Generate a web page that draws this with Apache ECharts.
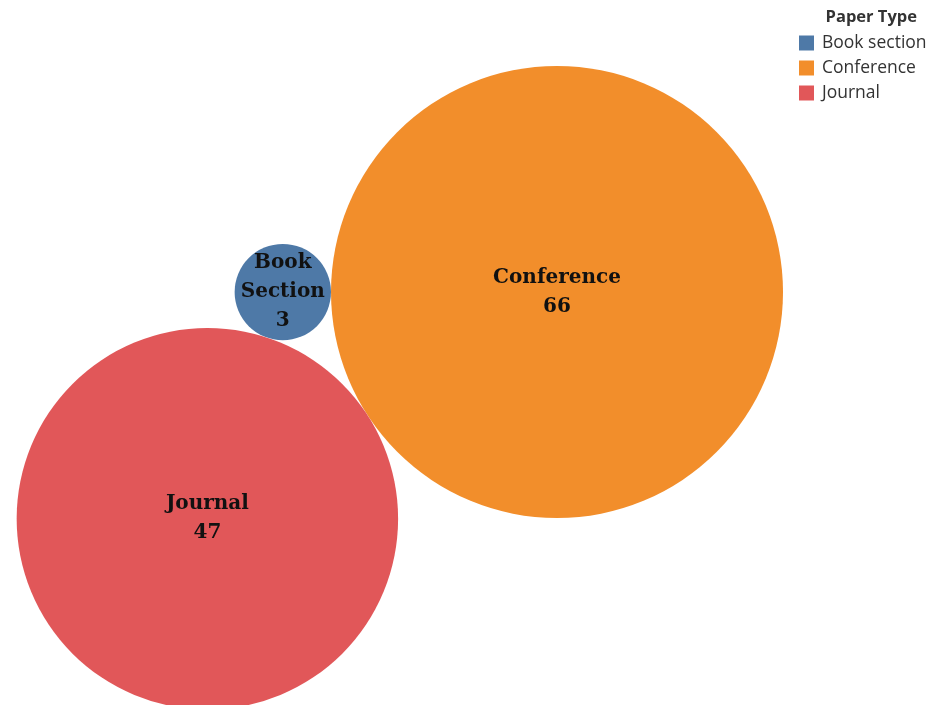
<!DOCTYPE html>
<html>
<head>
<meta charset="utf-8">
<script src="https://cdn.jsdelivr.net/npm/echarts@6/dist/echarts.min.js"></script>
<style>
  html, body { margin: 0; padding: 0; background: #ffffff; }
  #chart { width: 930px; height: 705px; }
</style>
</head>
<body>
<div id="chart"></div>
<script>
// Paper counts by type
const categories = ['Book section', 'Conference', 'Journal'];
const bubbleLabels = ['Book\nSection', 'Conference', 'Journal'];
const paperCounts = [3, 66, 47];
const colors = ['#4e79a7', '#f28e2b', '#e15759'];

// Packed-bubble layout: area proportional to count, circles placed tangent to each other.
const W = 930, H = 705;
const pxPerSqrt = 27.82;              // radius = pxPerSqrt * sqrt(count)
const anchor = [557, 292];            // centre of the largest bubble
const firstAngle = 147.03 * Math.PI / 180; // direction from largest to second bubble

const radii = paperCounts.map(v => pxPerSqrt * Math.sqrt(v));
const order = paperCounts.map((v, i) => i).sort((a, b) => paperCounts[b] - paperCounts[a]);
const centers = new Array(paperCounts.length);
{
  const a = order[0], b = order[1], c = order[2];
  centers[a] = anchor.slice();
  const dAB = radii[a] + radii[b];
  centers[b] = [anchor[0] + dAB * Math.cos(firstAngle), anchor[1] + dAB * Math.sin(firstAngle)];
  const dAC = radii[a] + radii[c];
  const dBC = radii[b] + radii[c];
  const alpha = Math.acos((dAB * dAB + dAC * dAC - dBC * dBC) / (2 * dAB * dAC));
  const ang = firstAngle + alpha;
  centers[c] = [anchor[0] + dAC * Math.cos(ang), anchor[1] + dAC * Math.sin(ang)];
}

const chart = echarts.init(document.getElementById('chart'), null, { renderer: 'canvas' });

const series = categories.map((name, i) => ({
  name: name,
  type: 'scatter',
  symbol: 'circle',
  symbolSize: radii[i] * 2,
  itemStyle: { color: colors[i], opacity: 1 },
  emphasis: { disabled: true },
  label: {
    show: true,
    position: 'inside',
    formatter: bubbleLabels[i] + '\n' + paperCounts[i],
    fontFamily: 'DejaVu Serif',
    fontWeight: 'bold',
    fontSize: 20,
    lineHeight: 29,
    color: '#111111'
  },
  data: [[centers[i][0], centers[i][1], paperCounts[i]]],
  z: 2
}));

chart.setOption({
  backgroundColor: '#ffffff',
  animation: false,
  title: {
    text: 'Paper Type',
    right: 8,
    top: 4,
    textStyle: { fontFamily: 'Open Sans', fontWeight: 'bold', fontSize: 16.5, color: '#333333' }
  },
  legend: {
    data: categories,
    orient: 'vertical',
    left: 794,
    top: 29,
    icon: 'rect',
    itemWidth: 15,
    itemHeight: 15,
    itemGap: 7,
    selectedMode: false,
    textStyle: { fontFamily: 'Open Sans', fontSize: 17.5, lineHeight: 15, color: '#333333', padding: [0, 0, 0, 3] }
  },
  grid: { left: 0, right: 0, top: 0, bottom: 0 },
  xAxis: { type: 'value', min: 0, max: W, show: false },
  yAxis: { type: 'value', min: 0, max: H, inverse: true, show: false },
  series: series
});
</script>
</body>
</html>
